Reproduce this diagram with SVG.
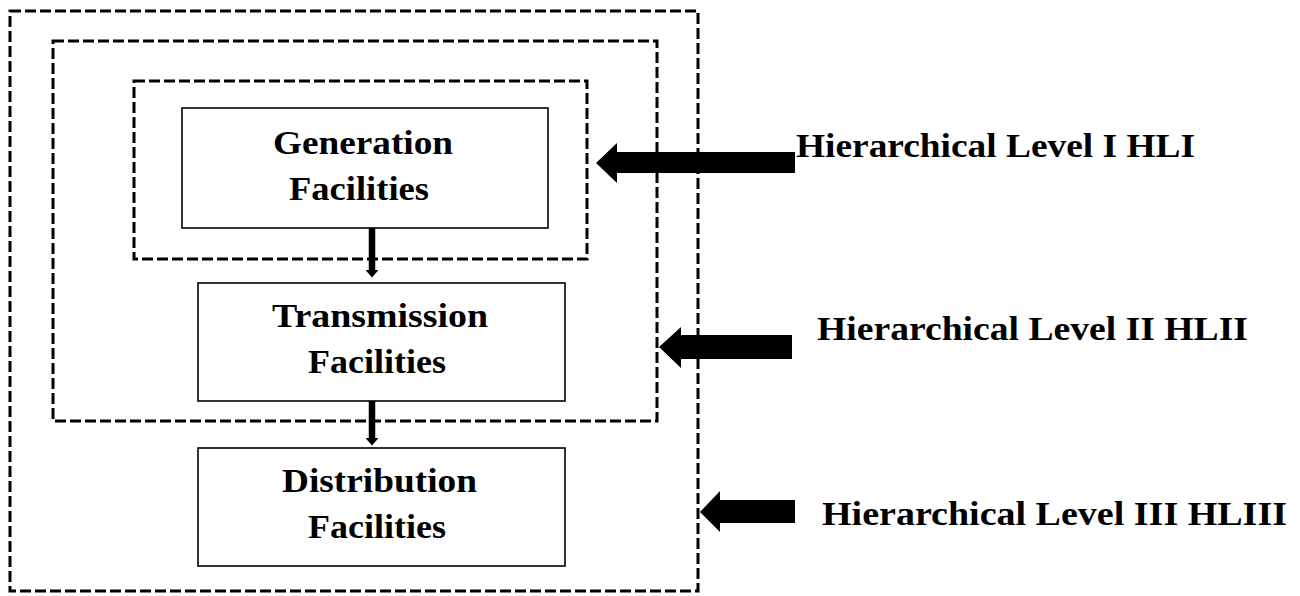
<svg xmlns="http://www.w3.org/2000/svg" width="1300" height="596" viewBox="0 0 1300 596">
<defs>
<style>
.dash{fill:none;stroke:#000;stroke-width:3;stroke-dasharray:11 4}
.box{fill:#fff;stroke:#000;stroke-width:1.6}
.t{font-family:"Liberation Serif","Times New Roman",serif;font-weight:bold;font-size:33px;fill:#000}
.h{font-family:"Liberation Serif","Times New Roman",serif;font-weight:bold;font-size:34px;fill:#000}
.conn{stroke:#000;stroke-width:6.5;fill:none}
</style>
<marker id="ah" viewBox="0 0 8 14" refX="0.5" refY="7" markerWidth="8" markerHeight="14" orient="auto" markerUnits="userSpaceOnUse">
<path d="M0,0 L8,7 L0,14 Z" fill="#000"/>
</marker>
</defs>
<rect width="1300" height="596" fill="#fff"/>
<g id="level3"><rect class="dash" x="10" y="11" width="688" height="580"/></g>
<g id="level2"><rect class="dash" x="53" y="41" width="604" height="380"/></g>
<g id="level1"><rect class="dash" x="134" y="81" width="453" height="178"/></g>
<g id="generation">
<rect class="box" x="182" y="108" width="366" height="120"/>
<text class="t" x="273" y="154" textLength="180" lengthAdjust="spacingAndGlyphs">Generation</text>
<text class="t" x="289" y="200" textLength="140" lengthAdjust="spacingAndGlyphs">Facilities</text>
</g>
<g id="transmission">
<rect class="box" x="198" y="283" width="367" height="118"/>
<text class="t" x="272" y="327" textLength="216" lengthAdjust="spacingAndGlyphs">Transmission</text>
<text class="t" x="308" y="373" textLength="138" lengthAdjust="spacingAndGlyphs">Facilities</text>
</g>
<g id="distribution">
<rect class="box" x="198" y="448" width="367" height="118"/>
<text class="t" x="282" y="492" textLength="195" lengthAdjust="spacingAndGlyphs">Distribution</text>
<text class="t" x="308" y="538" textLength="138" lengthAdjust="spacingAndGlyphs">Facilities</text>
</g>
<g id="connectors">
<line class="conn" x1="372" y1="228" x2="372" y2="270" marker-end="url(#ah)"/>
<line class="conn" x1="372" y1="401" x2="372" y2="438" marker-end="url(#ah)"/>
<path d="M596,163 L617,143 L617,152 L795,152 L795,173 L617,173 L617,183 Z" fill="#000"/>
<path d="M659,347 L681,327 L681,335 L792,335 L792,359 L681,359 L681,368 Z" fill="#000"/>
<path d="M700,512 L720,491 L720,500 L795,500 L795,523 L720,523 L720,532 Z" fill="#000"/>
</g>
<g id="label1"><text class="h" x="796" y="157" textLength="399" lengthAdjust="spacingAndGlyphs">Hierarchical Level I HLI</text></g>
<g id="label2"><text class="h" x="817" y="340" textLength="431" lengthAdjust="spacingAndGlyphs">Hierarchical Level II HLII</text></g>
<g id="label3"><text class="h" x="822" y="525" textLength="465" lengthAdjust="spacingAndGlyphs">Hierarchical Level III HLIII</text></g>
</svg>
